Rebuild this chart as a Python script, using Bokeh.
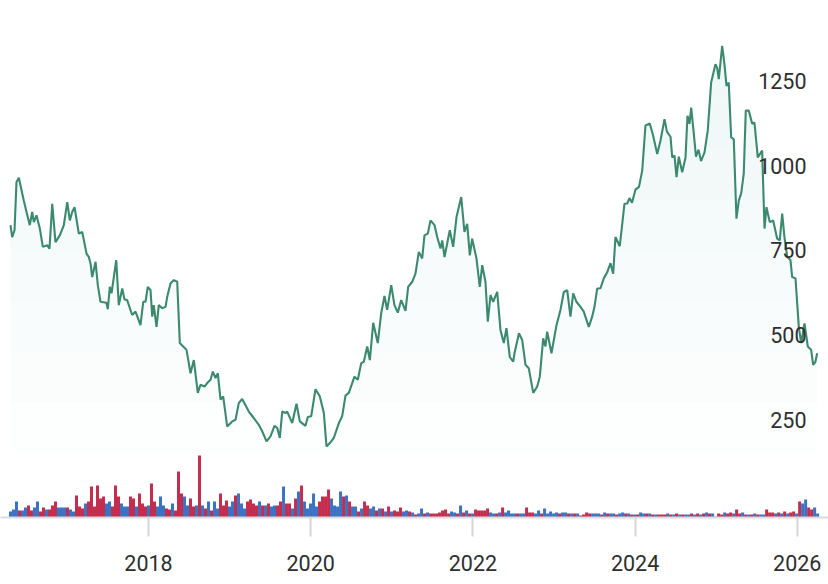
import numpy as np
from bokeh.plotting import figure
from bokeh.models import Range1d, FixedTicker
from bokeh.core.properties import value
from bokeh.embed import file_html
from bokeh.resources import INLINE

# ---- price series (decimal year, price) ----
dates = [
2016.298,2016.319,2016.348,2016.372,2016.401,2016.462,2016.496,2016.536,2016.566,2016.586,
2016.619,2016.660,2016.697,2016.751,2016.779,2016.813,2016.853,2016.906,2016.956,2016.998,
2017.030,2017.059,2017.088,2017.141,2017.183,2017.236,2017.264,2017.285,2017.306,2017.347,
2017.375,2017.408,2017.482,2017.498,2017.523,2017.544,2017.602,2017.634,2017.676,2017.704,
2017.737,2017.799,2017.840,2017.901,2017.935,2017.963,2017.991,2018.025,2018.046,2018.065,
2018.099,2018.127,2018.169,2018.210,2018.231,2018.271,2018.312,2018.354,2018.386,2018.428,
2018.469,2018.518,2018.559,2018.608,2018.641,2018.691,2018.724,2018.765,2018.793,2018.826,
2018.855,2018.888,2018.921,2018.970,2019.032,2019.073,2019.113,2019.155,2019.237,2019.298,
2019.360,2019.402,2019.455,2019.504,2019.554,2019.587,2019.619,2019.649,2019.689,2019.710,
2019.772,2019.825,2019.866,2019.936,2019.964,2020.006,2020.059,2020.112,2020.162,2020.195,
2020.236,2020.285,2020.347,2020.388,2020.429,2020.470,2020.540,2020.581,2020.623,2020.655,
2020.697,2020.729,2020.771,2020.827,2020.869,2020.910,2020.943,2020.993,2021.033,2021.074,
2021.116,2021.169,2021.202,2021.252,2021.292,2021.333,2021.375,2021.403,2021.444,2021.477,
2021.527,2021.560,2021.601,2021.622,2021.650,2021.715,2021.757,2021.798,2021.856,2021.896,
2021.930,2021.962,2021.991,2022.044,2022.085,2022.115,2022.155,2022.184,2022.217,2022.250,
2022.300,2022.340,2022.381,2022.414,2022.455,2022.497,2022.513,2022.568,2022.608,2022.649,
2022.689,2022.744,2022.793,2022.825,2022.867,2022.895,2022.916,2022.969,2023.031,2023.080,
2023.121,2023.163,2023.203,2023.237,2023.277,2023.327,2023.367,2023.429,2023.471,2023.499,
2023.533,2023.573,2023.614,2023.656,2023.697,2023.730,2023.758,2023.811,2023.869,2023.903,
2023.931,2023.962,2024.005,2024.048,2024.088,2024.128,2024.181,2024.223,2024.273,2024.313,
2024.363,2024.393,2024.437,2024.458,2024.486,2024.511,2024.539,2024.581,2024.622,2024.646,
2024.671,2024.692,2024.724,2024.751,2024.782,2024.813,2024.856,2024.896,2024.938,2024.991,
2025.012,2025.032,2025.053,2025.074,2025.102,2025.127,2025.155,2025.185,2025.217,2025.250,
2025.279,2025.308,2025.340,2025.365,2025.402,2025.444,2025.472,2025.513,2025.567,2025.596,
2025.620,2025.661,2025.703,2025.752,2025.784,2025.814,2025.842,2025.876,2025.916,2025.937,
2025.978,2026.019,2026.048,2026.089,2026.130,2026.171,2026.196,2026.224,2026.245]

prices = [
824,789,809,951,964,897,863,824,863,833,
853,814,760,765,755,887,774,794,824,892,
838,863,877,799,804,740,730,711,671,716,
647,598,595,576,642,623,721,588,637,605,
603,559,569,529,598,598,642,632,554,588,
524,588,579,583,613,652,662,657,476,466,
456,387,426,329,353,348,358,368,392,373,
387,309,319,230,245,250,299,311,274,255,
235,216,186,201,232,226,196,274,270,274,
240,297,245,232,258,260,340,319,270,171,
181,196,240,260,321,329,377,368,417,421,
466,426,536,476,564,615,574,647,588,566,
603,571,642,657,681,745,726,794,799,838,
824,789,755,779,730,809,760,848,907,804,
828,735,784,726,642,706,657,539,618,598,
627,515,476,520,435,421,446,505,485,412,
402,329,348,377,490,466,510,446,529,574,
627,632,554,623,598,583,569,524,554,583,
637,638,667,685,712,681,789,762,887,888,
904,890,929,937,985,1118,1124,1088,1034,1073,
1137,1100,1085,1024,1029,966,1026,980,1024,1147,
1123,1171,1094,1026,1047,1013,1039,1103,1245,1299,
1289,1255,1304,1353,1299,1235,1245,1083,1078,843,
897,917,976,1162,1162,1123,1127,1024,1044,814,
877,833,838,784,779,858,789,730,721,671,
667,524,476,534,466,456,412,421,446]

# ---- volume bars (regular ~2-week periods from first date) ----
VOL_START = 2016.298
VOL_STEP = 0.037
volume = [
6,8,16,7,7,10,12,7,10,16,
6,10,8,8,12,16,10,10,10,10,
8,6,22,11,9,14,16,31,11,32,
19,21,14,16,11,32,21,14,11,11,
21,19,11,24,14,11,12,34,16,11,
21,12,9,8,14,7,46,24,21,12,
19,11,12,62,12,9,16,7,16,9,
24,12,17,11,16,22,24,14,9,16,
18,14,12,16,12,12,14,11,12,12,
16,31,14,14,9,19,26,32,16,9,
14,24,11,16,21,21,28,19,12,11,
26,21,22,16,11,11,6,9,16,12,
9,11,7,9,9,6,11,6,7,6,
10,6,7,6,5,3,4,9,4,5,
4,4,4,5,7,8,4,6,5,4,
12,5,7,4,4,8,7,7,7,9,
5,4,4,5,10,5,7,4,4,4,
4,4,10,5,5,4,7,4,9,4,
6,4,5,4,5,5,4,4,4,4,
2,3,5,4,4,4,4,3,5,4,
4,4,3,4,5,4,4,3,3,3,
5,4,4,4,3,3,3,3,3,4,
3,3,4,3,3,3,3,4,3,4,
3,4,5,4,4,1,4,3,5,4,
5,4,8,4,5,3,3,3,4,3,
3,3,8,5,5,4,5,4,6,4,
5,6,4,16,14,18,10,8,10,4]
# r = down period, b = up period
direction = (
"bbbrbbrrbb" "rrbrrrbbbr" "bbrrrbrrrr" "rrbbrrrbbb" "rrbrrrbrrb"
"bbrrbrrrbb" "rrbrbrbrbb" "rrrbbrbbbr" "rrrbrbrbbr" "rbrrbrbrbb"
"bbbrrrrbbb" "brbrbbrbrr" "bbrbrbrbrr" "rbbrbrbbrb" "rrrrrrrbbr"
"brbrbrrrrr" "bbrbrbbbbr" "bbrrrbbrbb" "bbbrbbrbrb" "rrrrbbbrbr"
"bbrbbrbrbr" "bbrbrbrrrb" "rbrbrbbrbr" "brbrbbrrbr" "rbrrbrbrbr"
"bbrrrbrbrb" "rrbrbbrrbb")

Y_TICKS = [250, 500, 750, 1000, 1250]
Y_LABELS = ["250", "500", "750", "1000", "1250"]
X_TICKS = [2018, 2020, 2022, 2024, 2026]

LINE = "#3b8a6d"
RED = "#c42d4e"
BLUE = "#3a72c4"
TXT = "#2e2e2e"
FONT = "Roboto"

t = np.array(dates)
pr = np.array(prices, dtype=float)

X0, X1 = 2016.175, 2026.385
p = figure(width=828, height=584, x_range=Range1d(X0, X1), y_range=Range1d(-38.6, 1487),
           output_backend="svg", toolbar_location=None, y_axis_location=None,
           min_border_left=0, min_border_right=0, min_border_top=0, min_border_bottom=67)
p.extra_y_ranges = {"vol": Range1d(0, 517)}
p.grid.visible = False
p.outline_line_color = None
p.background_fill_color = "white"
p.border_fill_color = "white"

# gradient-like fill under the line: stacked translucent layers
for lvl in range(150, 1400, 150):
    p.varea(x=t, y1=np.full_like(pr, lvl), y2=np.maximum(pr, lvl),
            fill_color="#22a673", fill_alpha=0.0085)

vt = VOL_START + VOL_STEP * np.arange(len(volume))
vcol = [RED if d == "r" else BLUE for d in direction]
p.vbar(x=vt, top=volume, bottom=0, width=VOL_STEP, fill_color=vcol, line_color=None,
       y_range_name="vol")

p.line(t, pr, line_color=LINE, line_width=2.1)

p.text(x=[X1] * len(Y_TICKS), y=Y_TICKS, text=Y_LABELS, x_offset=-22,
       text_align="right", text_baseline="middle", text_font=value(FONT),
       text_font_size="21.5px", text_color=TXT)

ax = p.xaxis[0]
ax.ticker = FixedTicker(ticks=X_TICKS)
ax.axis_line_color = "#dcdcdc"
ax.axis_line_width = 2
ax.major_tick_in = 0
ax.major_tick_out = 19
ax.major_tick_line_color = "#d6d6d6"
ax.major_tick_line_width = 2
ax.minor_tick_line_color = None
ax.major_label_text_font = FONT
ax.major_label_text_font_size = "21.5px"
ax.major_label_text_color = TXT
ax.major_label_standoff = 18

open("out.html", "w").write(file_html(p, INLINE))
